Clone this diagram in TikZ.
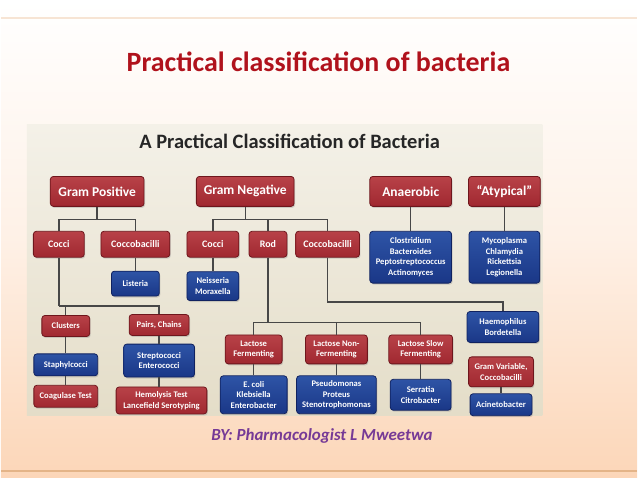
\documentclass[tikz,border=0pt]{standalone}
\usepackage{fontspec}
\setmainfont{Carlito}
\usetikzlibrary{positioning,calc,shadows}
\definecolor{mred}{RGB}{160,40,48}
\definecolor{mredtop}{RGB}{184,66,72}
\definecolor{mreddark}{RGB}{110,22,28}
\definecolor{mblue}{RGB}{26,55,135}
\definecolor{mbluetop}{RGB}{46,84,166}
\definecolor{mbluedark}{RGB}{16,34,96}
\definecolor{mpeach}{RGB}{252,214,184}
\definecolor{mbeige}{RGB}{228,221,200}
\definecolor{mbeigetop}{RGB}{244,241,232}
\definecolor{mtitle}{RGB}{176,18,28}
\definecolor{mpurple}{RGB}{118,58,150}
\tikzset{
  grp/.style={rectangle,rounded corners=3pt,draw=mreddark,thick,
    top color=mredtop,bottom color=mred,text=white,align=center,
    inner sep=1pt,drop shadow={opacity=0.3,shadow xshift=1pt,shadow yshift=-1.5pt}},
  org/.style={rectangle,rounded corners=3pt,draw=mbluedark,thick,
    top color=mbluetop,bottom color=mblue,text=white,align=center,
    inner sep=1pt,drop shadow={opacity=0.3,shadow xshift=1pt,shadow yshift=-1.5pt}},
  link/.style={draw=black!72,line width=1.4pt},
}

\begin{document}
\begin{tikzpicture}[x=1pt,y=-1pt,
  big/.style={font=\bfseries\fontsize{13.5}{15}\selectfont},
  mid/.style={font=\bfseries\fontsize{10}{11.5}\selectfont},
  sml/.style={font=\bfseries\fontsize{8.6}{10.6}\selectfont},
  sz/.style 2 args={minimum width=#1,minimum height=#2},
]
  \shade[top color=white,bottom color=mpeach,middle color=mpeach!35] (0,0) rectangle (638,479);
  \draw[mpeach!70!brown!40,line width=1.5pt] (0,18) -- (638,18);
  \draw[mpeach!60!brown,line width=2pt] (0,472) -- (638,472);
  \node[text=mtitle,font=\bfseries\fontsize{28}{32}\selectfont] (title) at (318.5,62)
    {Practical classification of bacteria};
  \shade[top color=mbeigetop,bottom color=mbeige] (26,125) rectangle (543,417);
  \node[text=black!85,font=\bfseries\fontsize{20.5}{23}\selectfont] (subtitle) at (289.5,142)
    {A Practical Classification of Bacteria};
  \node[text=mpurple,font=\bfseries\itshape\fontsize{17}{19}\selectfont] (byline) at (322,437)
    {BY: Pharmacologist L Mweetwa};

  \node[grp,big,sz={94pt}{30pt}] (gpos) at (96.5,192) {Gram Positive};
  \node[grp,big,sz={98pt}{30pt}] (gneg) at (245,192) {Gram Negative};
  \node[grp,big,sz={82pt}{30pt}] (anaer) at (411,192) {Anaerobic};
  \node[grp,big,sz={72pt}{30pt}] (atyp) at (505,192) {``Atypical''};

  \node[grp,mid,sz={51pt}{26pt}] (gpcocci) at (58,245) {Cocci};
  \node[grp,mid,sz={69pt}{26pt}] (gpcocco) at (134.8,245) {Coccobacilli};
  \node[grp,mid,sz={52pt}{26pt}] (gncocci) at (212.5,245) {Cocci};
  \node[grp,mid,sz={38pt}{26pt}] (gnrod) at (267.8,245) {Rod};
  \node[grp,mid,sz={64pt}{26pt}] (gncocco) at (327.6,245) {Coccobacilli};

  \node[org,sml,sz={48pt}{25pt}] (listeria) at (134.8,284.5) {Listeria};
  \node[org,sml,sz={52pt}{29pt}] (neisseria) at (212.5,287) {Neisseria\\Moraxella};
  \node[org,sml,sz={82pt}{52pt}] (clostr) at (411,258) {Clostridium\\Bacteroides\\Peptostreptococcus\\Actinomyces};
  \node[org,sml,sz={71pt}{52pt}] (mycopl) at (505,258) {Mycoplasma\\Chlamydia\\Rickettsia\\Legionella};

  \node[grp,sml,sz={48pt}{21pt}] (clusters) at (65,327) {Clusters};
  \node[grp,sml,sz={60pt}{21pt}] (pairs) at (158.6,326) {Pairs, Chains};
  \node[org,sml,sz={64pt}{22pt}] (staph) at (65,366) {Staphylcocci};
  \node[org,sml,sz={71pt}{33pt}] (strep) at (158.6,361.7) {Streptococci\\Enterococci};
  \node[grp,sml,sz={64pt}{22pt}] (coag) at (65,397.5) {Coagulase Test};
  \node[grp,sml,sz={91pt}{27pt}] (hemol) at (161,401.7) {Hemolysis Test\\Lancefield Serotyping};

  \node[grp,sml,sz={57pt}{29pt}] (lacf) at (253.5,350.5) {Lactose\\Fermenting};
  \node[grp,sml,sz={62pt}{29pt}] (lacnon) at (336.5,350.5) {Lactose Non-\\Fermenting};
  \node[grp,sml,sz={64pt}{29pt}] (lacslow) at (421,350.5) {Lactose Slow\\Fermenting};
  \node[org,sml,sz={67pt}{38pt}] (ecoli) at (253.5,396) {E. coli\\Klebsiella\\Enterobacter};
  \node[org,sml,sz={80pt}{38pt}] (pseudo) at (336.5,396) {Pseudomonas\\Proteus\\Stenotrophomonas};
  \node[org,sml,sz={61pt}{31pt}] (serratia) at (421,396) {Serratia\\Citrobacter};

  \node[org,sml,sz={72pt}{31pt}] (haemo) at (503.5,328) {Haemophilus\\Bordetella};
  \node[grp,sml,sz={65pt}{30pt}] (gramvar) at (501.6,373) {Gram Variable,\\Coccobacilli};
  \node[org,sml,sz={62pt}{22pt}] (acineto) at (501.6,406) {Acinetobacter};

  \draw[link] (gpos.south) -- ++(0,12.5) coordinate (gpbar);
  \draw[link] (gpbar) -| (gpcocci.north);
  \draw[link] (gpbar) -| (gpcocco.north);
  \draw[link] (gneg.south) -- ++(0,12.5) coordinate (gnbar);
  \draw[link] (gnbar) -| (gncocci.north);
  \draw[link] (gnbar) -| (gnrod.north);
  \draw[link] (gnbar) -| (gncocco.north);
  \draw[link] (anaer) -- (clostr);
  \draw[link] (atyp) -- (mycopl);
  \draw[link] (gpcocco) -- (listeria);
  \draw[link] (gncocci) -- (neisseria);
  \draw[link] (gpcocci.south) -- ++(0,48.7) coordinate (cocbar);
  \draw[link] (cocbar) -| (clusters.north);
  \draw[link] (cocbar) -| (pairs.north);
  \draw[link] (clusters) -- (staph) -- (coag);
  \draw[link] (pairs) -- (strep);
  \draw[link] (strep.south) -- (strep.south |- hemol.north);
  \draw[link] (gnrod.south) -- ++(0,65.3) coordinate (rodbar);
  \draw[link] (rodbar) -| (lacf.north);
  \draw[link] (rodbar) -| (lacnon.north);
  \draw[link] (rodbar) -| (lacslow.north);
  \draw[link] (lacf) -- (ecoli);
  \draw[link] (lacnon) -- (pseudo);
  \draw[link] (lacslow) -- (serratia);
  \draw[link] (gncocco.south) -- ++(0,44.7) -| (haemo.north);
  \draw[link] (gramvar) -- (acineto);
\end{tikzpicture}
\end{document}
